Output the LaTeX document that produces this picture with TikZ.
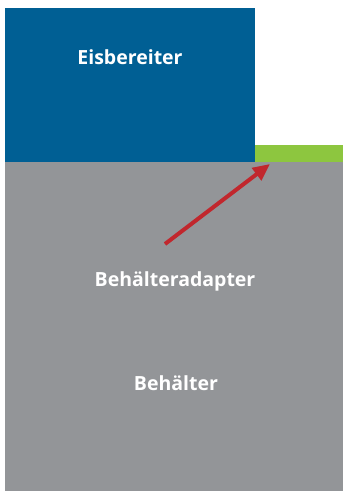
\documentclass[tikz,border=0pt]{standalone}
\usepackage{fontspec}
\setmainfont{Open Sans}
\usetikzlibrary{arrows.meta}
\definecolor{eisblue}{HTML}{005F94}
\definecolor{bgray}{HTML}{939598}
\definecolor{agreen}{HTML}{8DC63F}
\definecolor{ared}{HTML}{C1272D}
\begin{document}
\begin{tikzpicture}[x=1pt,y=-1pt,
  lbl/.style={text=white,font=\bfseries\fontsize{19.5}{22}\selectfont,inner sep=0pt,anchor=base}]
\useasboundingbox (0,0) rectangle (343,491);
\fill[white] (0,0) rectangle (343,491);
\fill[bgray] (5,162) rectangle (343,491);
\fill[eisblue] (5,8) rectangle (255,162);
\fill[agreen] (255,145) rectangle (343,161.5);
\node[lbl] (eis) at (130,64.3) {Eisbereiter};
\node[lbl] (adapt) at (175,286.7) {Behälteradapter};
\node[lbl] (beh) at (176,390.5) {Behälter};
\coordinate (tail) at (165,244);
\coordinate (tip) at (270,164);
\draw[ared,line width=4pt,-{Triangle[length=17pt,width=15pt]}] (tail) -- (tip);
\end{tikzpicture}
\end{document}
